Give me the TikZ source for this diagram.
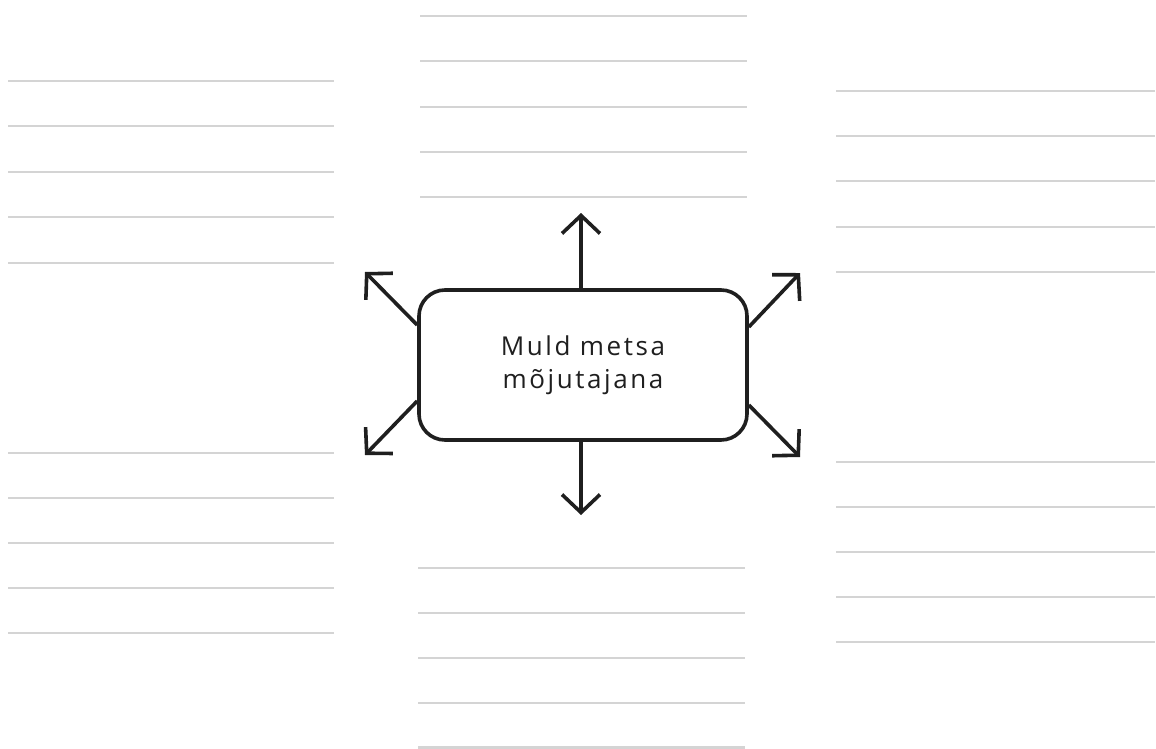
\documentclass[tikz,border=0pt]{standalone}
\usepackage{fontspec}
\setmainfont{Open Sans}[LetterSpace=10]
\usetikzlibrary{arrows.meta,calc}
\begin{document}
\begin{tikzpicture}[x=1pt,y=-1pt,
  rule/.style={draw=black!17,line width=2.9pt},
  arr/.style={draw=black!88,line width=3.6pt,-{Straight Barb[length=18pt,width=38pt,line width=3.6pt]}},
  centerbox/.style={draw=black!88,line width=3.6pt,rounded corners=26pt,minimum width=328pt,minimum height=150pt,align=center,inner sep=0pt,font=\fontsize{26}{33}\selectfont,text=black!88}]
\useasboundingbox (0,0) rectangle (1156,749);
\fill[white] (0,0) rectangle (1156,749);
% writing lines
\foreach \y in {81,126,172,217,263} \draw[rule] (8,\y) -- (334,\y);
\foreach \y in {16,61,107,152,197} \draw[rule] (420,\y) -- (747,\y);
\foreach \y in {91,136,181,227,272} \draw[rule] (836,\y) -- (1155,\y);
\foreach \y in {453,498,543,588,633} \draw[rule] (8,\y) -- (334,\y);
\foreach \y in {568,613,658,703,747.5} \draw[rule] (418,\y) -- (745,\y);
\foreach \y in {462,507,552,597,642} \draw[rule] (836,\y) -- (1155,\y);
% central box
\node[centerbox] (box) at (583,365) {Muld metsa\\mõjutajana};
\coordinate (tu) at (581,213);
\coordinate (td) at (581,515);
\coordinate (tul) at (365,272);
\coordinate (tdl) at (365,455);
\coordinate (tur) at (800,273);
\coordinate (tdr) at (800,457);
\draw[arr] (box.north -| tu) -- (tu);
\draw[arr] (box.south -| td) -- (td);
\draw[arr] ($(box.west)+(0,-40)$) -- (tul);
\draw[arr] ($(box.west)+(0,36)$) -- (tdl);
\draw[arr] ($(box.east)+(0,-38)$) -- (tur);
\draw[arr] ($(box.east)+(0,40)$) -- (tdr);
\end{tikzpicture}
\end{document}
